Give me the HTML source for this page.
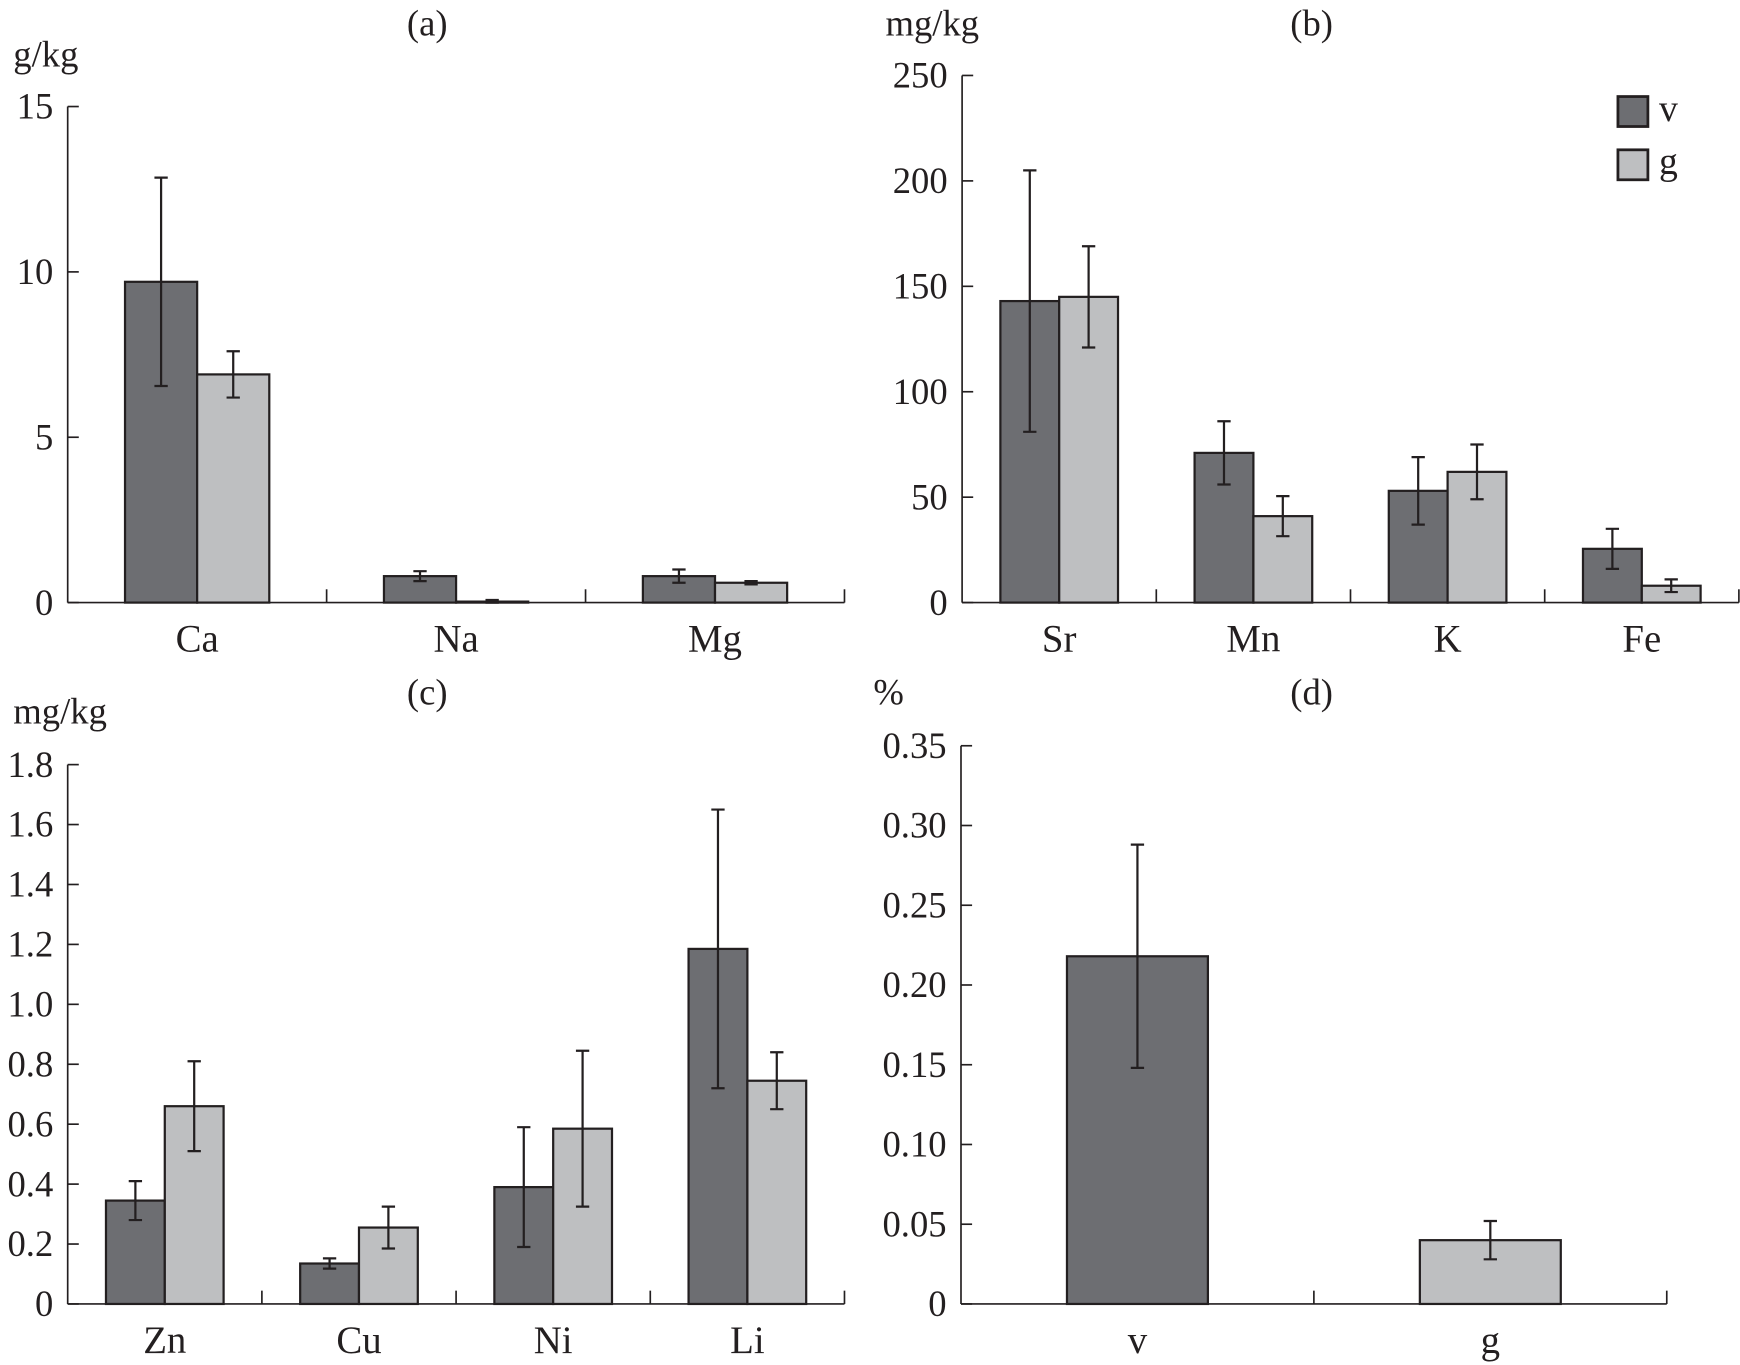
<!DOCTYPE html>
<html><head><meta charset="utf-8"><style>
html,body{margin:0;padding:0;background:#fff;}
svg{display:block;font-family:"Liberation Serif",serif;}
</style></head><body>
<svg id="fig" width="1740" height="1365" viewBox="0 0 1568 1230" preserveAspectRatio="none" xmlns="http://www.w3.org/2000/svg"></svg>
<script>
// Panel (a)
const aCategories = ["Ca","Na","Mg"];
const aV = [9.7, 0.8, 0.8];
const aVErr = [3.15, 0.15, 0.2];
const aG = [6.9, 0.03, 0.6];
const aGErr = [0.7, 0.05, 0.05];
const aTicks = [0, 5, 10, 15];
const aTickLabels = ["0","5","10","15"];
// Panel (b)
const bCategories = ["Sr","Mn","K","Fe"];
const bV = [143, 71, 53, 25.5];
const bVErr = [62, 15, 16, 9.5];
const bG = [145, 41, 62, 8];
const bGErr = [24, 9.5, 13, 3];
const bTicks = [0, 50, 100, 150, 200, 250];
const bTickLabels = ["0","50","100","150","200","250"];
// Panel (c)
const cCategories = ["Zn","Cu","Ni","Li"];
const cV = [0.345, 0.135, 0.39, 1.185];
const cVErr = [0.065, 0.017, 0.2, 0.465];
const cG = [0.66, 0.255, 0.585, 0.745];
const cGErr = [0.15, 0.07, 0.26, 0.095];
const cTicks = [0,0.2,0.4,0.6,0.8,1.0,1.2,1.4,1.6,1.8];
const cTickLabels = ["0","0.2","0.4","0.6","0.8","1.0","1.2","1.4","1.6","1.8"];
// Panel (d)
const dCategories = ["v","g"];
const dValues = [0.218, 0.04];
const dErr = [0.07, 0.012];
const dTicks = [0,0.05,0.10,0.15,0.20,0.25,0.30,0.35];
const dTickLabels = ["0","0.05","0.10","0.15","0.20","0.25","0.30","0.35"];

const DARK="#6d6e72", LIGHT="#bebfc1", INK="#231f20";
const svg=document.getElementById('fig');
const NS="http://www.w3.org/2000/svg";
function mk(tag,attrs,parent){const e=document.createElementNS(NS,tag);for(const k in attrs)e.setAttribute(k,attrs[k]);(parent||svg).appendChild(e);return e;}
function txt(x,y,s,anchor,size,parent){const t=mk('text',{x:x,y:y,'text-anchor':anchor,'font-size':size,fill:INK},parent);t.textContent=s;return t;}

function panel(cfg){
  const g=mk('g',{});
  
  
  const y=v=>cfg.y0-(v-cfg.ymin)/(cfg.ymax-cfg.ymin)*(cfg.y0-cfg.ytop);
  const n=cfg.cats.length, cw=(cfg.xend-cfg.x0)/n;
  const ax=mk('line',{x1:cfg.x0,y1:cfg.ytop,x2:cfg.x0,y2:cfg.y0,stroke:INK,'stroke-width':1.5},g);
  
  
  const xa=mk('line',{x1:cfg.x0,y1:cfg.y0,x2:cfg.xend,y2:cfg.y0,stroke:INK,'stroke-width':1.5},g);
  
  
  cfg.ticks.forEach((t,i)=>{
    const yy=y(t);
    mk('line',{x1:cfg.x0,y1:yy,x2:cfg.x0+10,y2:yy,stroke:INK,'stroke-width':1.5},g);
    const lb=txt(cfg.x0-13,yy+11,cfg.tickLabels[i],'end',33,g);
    
    
  });
  for(let i=1;i<=n;i++){const xx=cfg.x0+cw*i;mk('line',{x1:xx,y1:cfg.y0,x2:xx,y2:cfg.y0-12,stroke:INK,'stroke-width':1.5},g);}
  cfg.cats.forEach((c,i)=>{
    const cx=cfg.x0+cw*(i+0.5);
    cfg.series.forEach((s,j)=>{
      const v=s.vals[i], e=s.err[i];
      const bx = cfg.single ? cx-cfg.bw/2 : (j===0? cx-cfg.bw : cx);
      const fill = cfg.single ? (i===0?DARK:LIGHT) : s.color;
      const r=mk('rect',{x:bx,y:y(v),width:cfg.bw,height:cfg.y0-y(v),fill:fill,stroke:INK,'stroke-width':2},g);
      
      
      const ex=bx+cfg.bw/2, yt=y(v+e), yb=y(Math.max(v-e,0));
      const eb=mk('path',{d:`M${ex},${yt}V${yb}M${ex-6},${yt}H${ex+6}M${ex-6},${yb}H${ex+6}`,stroke:INK,'stroke-width':2,fill:'none'},g);
      
      
    });
    const cl=txt(cx,cfg.y0+44,c,'middle',35,g);
    
    
  });
  const tt=txt(cfg.title[0],cfg.title[1],cfg.title[2],'middle',33,g);
  
  
  const un=txt(cfg.unit[0],cfg.unit[1],cfg.unit[2],'start',33,g);
  
  
}

panel({name:'panel-a',cats:aCategories,x0:61,xend:761,y0:543,ytop:96,ymin:0,ymax:15,ticks:aTicks,tickLabels:aTickLabels,bw:65,
  series:[{key:'v',vals:aV,err:aVErr,color:DARK},{key:'g',vals:aG,err:aGErr,color:LIGHT}],
  title:[385,32,'(a)'],unit:[12,60,'g/kg']});
panel({name:'panel-b',cats:bCategories,x0:867,xend:1567,y0:543,ytop:68,ymin:0,ymax:250,ticks:bTicks,tickLabels:bTickLabels,bw:53,
  series:[{key:'v',vals:bV,err:bVErr,color:DARK},{key:'g',vals:bG,err:bGErr,color:LIGHT}],
  title:[1182,32,'(b)'],unit:[798,32,'mg/kg']});
panel({name:'panel-c',cats:cCategories,x0:61,xend:761,y0:1175,ytop:689,ymin:0,ymax:1.8,ticks:cTicks,tickLabels:cTickLabels,bw:53,
  series:[{key:'v',vals:cV,err:cVErr,color:DARK},{key:'g',vals:cG,err:cGErr,color:LIGHT}],
  title:[385,635,'(c)'],unit:[12,652,'mg/kg']});
panel({name:'panel-d',cats:dCategories,x0:866,xend:1502,y0:1175,ytop:672,ymin:0,ymax:0.35,ticks:dTicks,tickLabels:dTickLabels,bw:127,single:true,
  series:[{key:'val',vals:dValues,err:dErr,color:DARK}],
  title:[1182,635,'(d)'],unit:[787,635,'%']});

const lg=mk('g',{});


[['v',DARK,87],['g',LIGHT,135]].forEach(([k,c,yy])=>{
  const r=mk('rect',{x:1458,y:yy,width:27,height:27,fill:c,stroke:INK,'stroke-width':2.5},lg);
  
  
  const t=txt(1495,yy+22,k,'start',34,lg);
  
  
});
</script>
</body></html>
